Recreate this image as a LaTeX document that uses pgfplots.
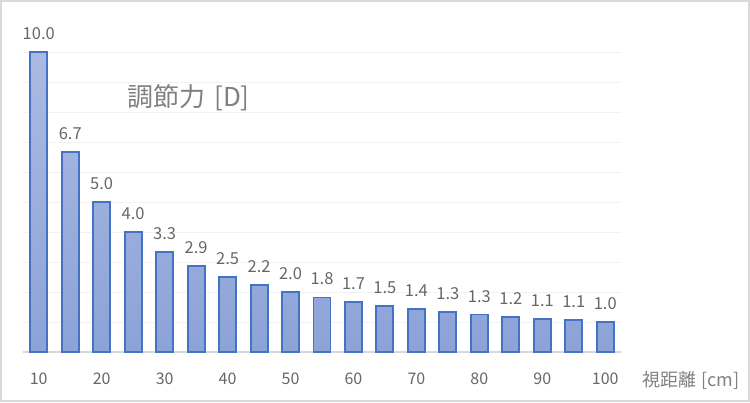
\documentclass[border=0pt]{standalone}
\usepackage{fontspec}
\setmainfont{Noto Sans CJK JP}
\usepackage{pgfplots}
\usepackage{pgfplotstable}
\pgfplotsset{compat=1.18}
\definecolor{barEdge}{HTML}{4472C4}
\definecolor{barTop}{HTML}{ABBAE2}
\definecolor{barBot}{HTML}{8CA3D8}
\definecolor{txt}{HTML}{666666}
\definecolor{ttl}{HTML}{808080}
\definecolor{gridc}{HTML}{F2F2F2}
\definecolor{axl}{HTML}{D9D9D9}

\pgfplotstableread{
x y lab
10 10.000 10.0
15 6.667 6.7
20 5.000 5.0
25 4.000 4.0
30 3.333 3.3
35 2.857 2.9
40 2.500 2.5
45 2.222 2.2
50 2.000 2.0
55 1.818 1.8
60 1.667 1.7
65 1.538 1.5
70 1.429 1.4
75 1.333 1.3
80 1.250 1.3
85 1.176 1.2
90 1.111 1.1
95 1.053 1.1
100 1.000 1.0
}\data

\begin{document}
\begin{tikzpicture}[x=1pt,y=1pt]
\begin{axis}[
  at={(0pt,0pt)}, anchor=south west,
  scale only axis, width=598pt, height=300pt,
  xmin=7.5, xmax=102.5, ymin=0, ymax=10,
  axis line style={draw=none},
  major tick length=0pt,
  /pgf/number format/assume math mode=true,
  xtick={10,20,...,100},
  ytick={0,1,...,10},
  yticklabels={,,,,,,,,,,,},
  ymajorgrids,
  grid style={gridc, line width=0.8pt},
  extra y ticks={0},
  extra y tick labels={,},
  extra y tick style={grid style={axl, line width=1.5pt}},
  xticklabel style={font=\fontsize{16}{16}\selectfont, text=txt, yshift=-17pt},
  clip=false,
]
\addplot[ybar, bar width=17pt, draw=barEdge, line width=1.9pt,
  top color=barTop, bottom color=barBot,
  point meta=explicit symbolic,
  nodes near coords,
  every node near coord/.append style={font=\fontsize{16.5}{16.5}\selectfont, text=txt, yshift=8pt}]
  table[x=x, y=y, meta=lab] {\data};
\end{axis}
\node[font=\fontsize{26}{26}\selectfont, text=ttl] at (165.5pt,254pt) {調節力\hspace{0.35em}[D]};
\node[font=\fontsize{18}{18}\selectfont, text=ttl] at (668pt,-28pt) {視距離\hspace{0.25em}[cm]};
\draw[axl, line width=2pt] (-22pt,-49pt) rectangle (726pt,351pt);
\pgfresetboundingbox
\useasboundingbox (-23pt,-50pt) rectangle (727pt,352pt);
\end{tikzpicture}
\end{document}
